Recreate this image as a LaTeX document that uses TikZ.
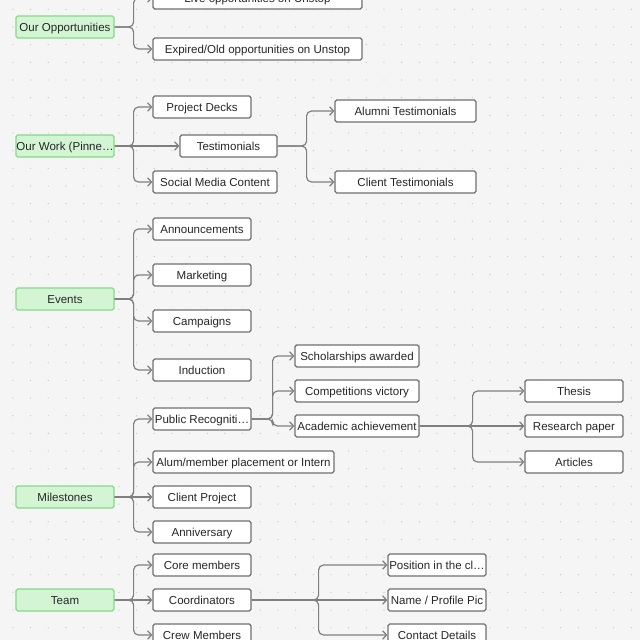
\documentclass[tikz,border=0pt]{standalone}
\usepackage{fontspec}
\setmainfont{Liberation Sans}
\usetikzlibrary{arrows.meta}
\definecolor{bgc}{HTML}{F5F5F5}
\definecolor{dotc}{HTML}{C9C9C9}
\definecolor{linec}{HTML}{7F7F7F}
\definecolor{boxc}{HTML}{707070}
\definecolor{txtc}{HTML}{262626}
\definecolor{grfill}{HTML}{D3F5D4}
\definecolor{grline}{HTML}{86D989}
\tikzset{
  box/.style={draw=boxc, fill=white, line width=0.85pt, rounded corners=1.2pt,
    text=txtc, font=\fontsize{8.2}{10}\selectfont, inner sep=0pt,
    text height=7.6pt, text depth=1pt,
    minimum height=0.55cm, minimum width=#1*0.025cm},
  box/.default=98,
  topic/.style={box, draw=grline, fill=grfill},
  link/.style={draw=linec, line width=0.85pt, rounded corners=3.5pt,
    -{Straight Barb[length=2.8pt,width=6pt]}}
}
\begin{document}
\begin{tikzpicture}[x=0.025cm, y=-0.025cm]
  \useasboundingbox (0,0) rectangle (640,640);
  \clip (0,0) rectangle (640,640);
  \fill[bgc] (0,0) rectangle (640,640);
  \foreach \i in {0,...,35}
  \foreach \j in {0,...,35}
  \fill[dotc] (12.9+17.67*\i, 9.3+17.67*\j) circle (0.5pt); % the dot grid
  % topics on the left
  \node[topic] (opp) at (65,27) {Our Opportunities};
  \node[topic] (work) at (65,146) {Our Work (Pinne…};
  \node[topic] (events) at (65,299) {Events};
  \node[topic] (miles) at (65,497) {Milestones};
  \node[topic] (team) at (65,600) {Team};
  % opportunities
  \node[box=209] (live) at (257.5,-2) {Live opportunities on Unstop};
  \node[box=209] (expired) at (257.5,49) {Expired/Old opportunities on Unstop};
  % work
  \node[box] (decks) at (202,107) {Project Decks};
  \node[box=97] (testi) at (228.5,146) {Testimonials};
  \node[box=124] (social) at (215,182) {Social Media Content};
  \node[box=141] (alumni) at (405.5,111) {Alumni Testimonials};
  \node[box=141] (client) at (405.5,182) {Client Testimonials};
  % events
  \node[box] (announce) at (202,229) {Announcements};
  \node[box] (market) at (202,275) {Marketing};
  \node[box] (campaign) at (202,321) {Campaigns};
  \node[box] (induct) at (202,370) {Induction};
  % milestones
  \node[box] (pubrec) at (202,419) {Public Recogniti…};
  \node[box=181] (placement) at (243.5,462) {Alum/member placement or Intern};
  \node[box] (cproject) at (202,497) {Client Project};
  \node[box] (anniv) at (202,532) {Anniversary};
  \node[box=124] (scholar) at (357,356) {Scholarships awarded};
  \node[box=124] (victory) at (357,391) {Competitions victory};
  \node[box=124] (academic) at (357,426) {Academic achievement};
  \node[box] (thesis) at (574,391) {Thesis};
  \node[box] (paper) at (574,426) {Research paper};
  \node[box] (articles) at (574,462) {Articles};
  % team
  \node[box] (core) at (202,565) {Core members};
  \node[box] (coord) at (202,600) {Coordinators};
  \node[box] (crew) at (202,635) {Crew Members};
  \node[box] (position) at (437,565) {Position in the cl…};
  \node[box] (name) at (437,600) {Name / Profile Pic};
  \node[box] (contact) at (437,635) {Contact Details};
  % connectors
  \foreach \c in {live,expired}
  \draw[link] (opp.east) -- ++(19,0) |- (\c.west);
  \foreach \c in {decks,social}
  \draw[link] (work.east) -- ++(19,0) |- (\c.west);
  \draw[link] (work.east) -- (testi.west);
  \foreach \c in {alumni,client}
  \draw[link] (testi.east) -- ++(29,0) |- (\c.west);
  \foreach \c in {announce,market,campaign,induct}
  \draw[link] (events.east) -- ++(19,0) |- (\c.west);
  \foreach \c in {pubrec,placement,anniv}
  \draw[link] (miles.east) -- ++(19,0) |- (\c.west);
  \draw[link] (miles.east) -- (cproject.west);
  \foreach \c in {scholar,victory,academic}
  \draw[link] (pubrec.east) -- ++(21,0) |- (\c.west);
  \foreach \c in {thesis,articles}
  \draw[link] (academic.east) -- ++(53,0) |- (\c.west);
  \draw[link] (academic.east) -- (paper.west);
  \foreach \c in {core,crew}
  \draw[link] (team.east) -- ++(19,0) |- (\c.west);
  \draw[link] (team.east) -- (coord.west);
  \foreach \c in {position,contact}
  \draw[link] (coord.east) -- ++(67,0) |- (\c.west);
  \draw[link] (coord.east) -- (name.west);
\end{tikzpicture}
\end{document}
